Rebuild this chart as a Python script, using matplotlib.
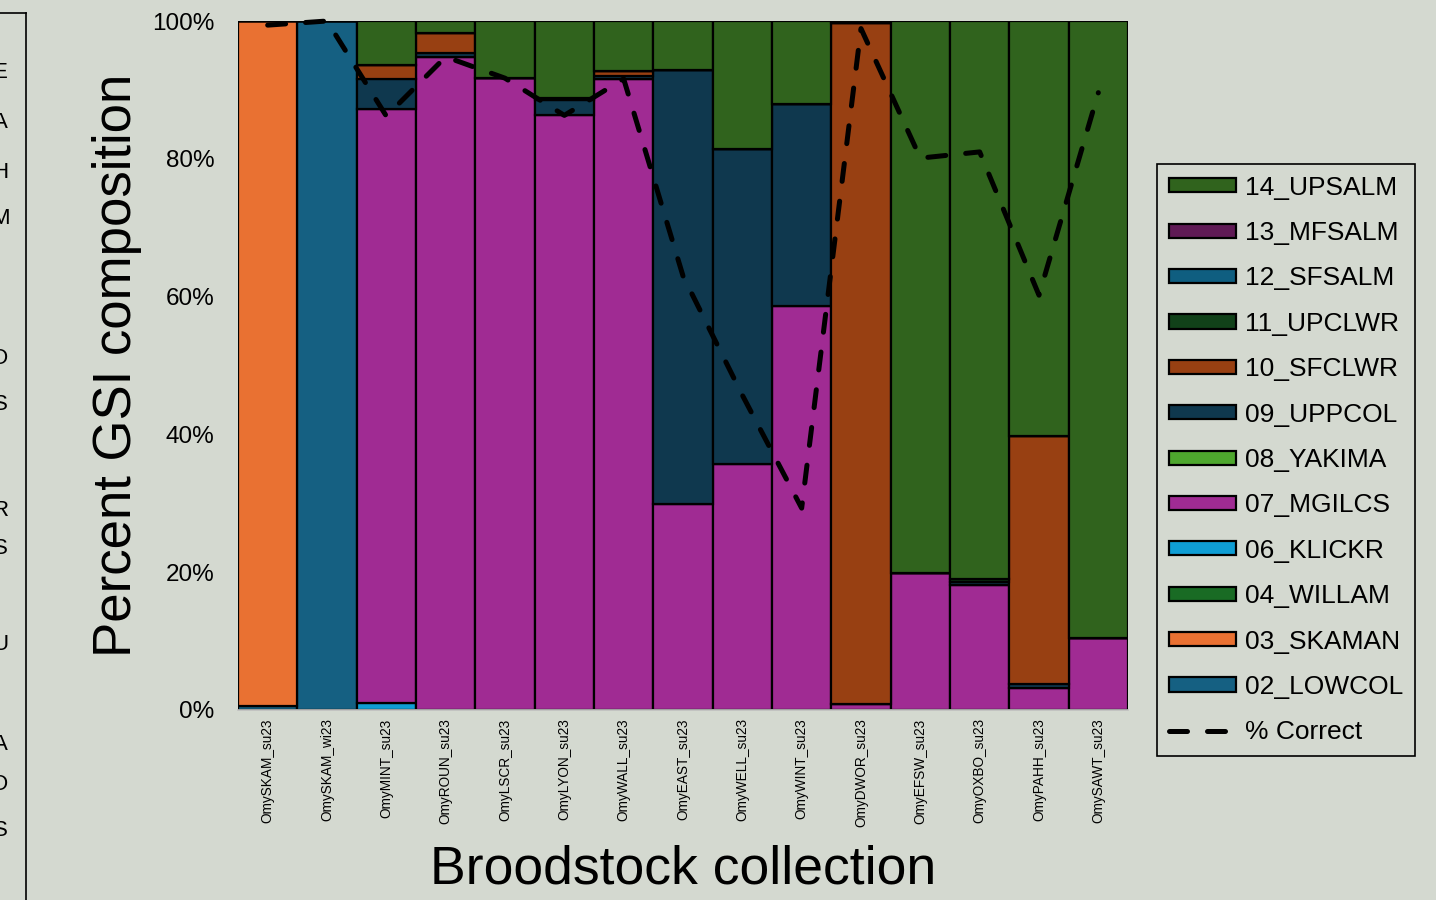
import numpy as np
import matplotlib
matplotlib.use("Agg")
import matplotlib.pyplot as plt
from matplotlib.patches import Patch
from matplotlib.lines import Line2D

plt.rcParams["font.family"] = ["Liberation Sans", "DejaVu Sans"]

bg = "#d4d9d0"

pops = ["OmySKAM_su23", "OmySKAM_wi23", "OmyMINT_su23", "OmyROUN_su23", "OmyLSCR_su23",
        "OmyLYON_su23", "OmyWALL_su23", "OmyEAST_su23", "OmyWELL_su23", "OmyWINT_su23",
        "OmyDWOR_su23", "OmyEFSW_su23", "OmyOXBO_su23", "OmyPAHH_su23", "OmySAWT_su23"]

# reporting-group composition (%), bottom to top of each stack
lowcol = [0.6, 100, 0, 0, 0, 0, 0, 0, 0, 0, 0, 0, 0, 0, 0]
skaman = [99.4, 0, 0, 0, 0, 0, 0, 0, 0, 0, 0, 0, 0, 0, 0]
willam = [0, 0, 0, 0, 0, 0, 0, 0, 0, 0, 0, 0, 0, 0, 0]
klickr = [0, 0, 1.0, 0, 0, 0, 0, 0, 0, 0, 0, 0, 0, 0, 0]
mgilcs = [0, 0, 86.2, 94.8, 91.7, 86.3, 91.6, 29.9, 35.7, 58.6, 0.8, 19.9, 18.2, 3.2, 10.4]
yakima = [0, 0, 0, 0, 0, 0, 0, 0, 0, 0, 0, 0, 0, 0, 0]
uppcol = [0, 0, 4.4, 0.5, 0, 2.2, 0.4, 63.0, 45.7, 29.3, 0, 0, 0.4, 0.6, 0]
sfclwr = [0, 0, 2.0, 2.9, 0, 0.3, 0.7, 0, 0, 0, 98.9, 0, 0, 36.0, 0]
upclwr = [0, 0, 0, 0, 0, 0, 0, 0, 0, 0, 0, 0, 0.4, 0, 0]
sfsalm = [0, 0, 0, 0, 0, 0, 0, 0, 0, 0, 0, 0, 0, 0, 0]
mfsalm = [0, 0, 0, 0, 0, 0, 0, 0, 0, 0, 0, 0, 0, 0, 0]
upsalm = [0, 0, 6.4, 1.8, 8.3, 11.2, 7.3, 7.1, 18.6, 12.1, 0.3, 80.1, 81.0, 60.2, 89.6]

pct_correct = [99.4, 100, 86.2, 94.8, 91.7, 86.3, 91.6, 63.0, 45.7, 29.3, 98.9, 80.1, 81.0, 60.2, 89.6]

groups = [
    ("02_LOWCOL", lowcol, "#156082"),
    ("03_SKAMAN", skaman, "#e97132"),
    ("04_WILLAM", willam, "#196b24"),
    ("06_KLICKR", klickr, "#0f9ed5"),
    ("07_MGILCS", mgilcs, "#a02b93"),
    ("08_YAKIMA", yakima, "#4ea72e"),
    ("09_UPPCOL", uppcol, "#0f384e"),
    ("10_SFCLWR", sfclwr, "#984012"),
    ("11_UPCLWR", upclwr, "#114119"),
    ("12_SFSALM", sfsalm, "#0f5e80"),
    ("13_MFSALM", mfsalm, "#5f1a55"),
    ("14_UPSALM", upsalm, "#30631d"),
]

fig = plt.figure(figsize=(14.36, 9), dpi=100, facecolor=bg)
ax = fig.add_axes([238 / 1436, 190 / 900, 890 / 1436, 689 / 900])
ax.set_facecolor(bg)

x = np.arange(len(pops))
bottom = np.zeros(len(pops))
handles = []
for name, vals, col in groups:
    vals = np.array(vals, dtype=float)
    ax.bar(x, vals, width=1.0, bottom=bottom, color=col, edgecolor="black",
           linewidth=1.6, zorder=2)
    bottom += vals
    handles.append(Patch(facecolor=col, edgecolor="black", linewidth=1.6, label=name))

ax.plot(x, pct_correct, color="black", lw=3.6, ls=(0, (3.6, 4.0)),
        dash_capstyle="round", zorder=5, clip_on=False)

ax.set_xlim(-0.5, len(pops) - 0.5)
ax.set_ylim(0, 100)
ax.set_yticks([0, 20, 40, 60, 80, 100])
ax.set_yticklabels(["0%", "20%", "40%", "60%", "80%", "100%"])
ax.set_xticks(x)
ax.set_xticklabels(pops, rotation=90, fontsize=9.8)
ax.tick_params(axis="y", length=0, pad=17, labelsize=17.5)
ax.tick_params(axis="x", length=0, pad=6)

for s in ["top", "right", "left"]:
    ax.spines[s].set_visible(False)
ax.spines["bottom"].set_color("#bfbfbf")
ax.spines["bottom"].set_linewidth(1.2)

ax.set_ylabel("Percent GSI composition", fontsize=38)
ax.yaxis.set_label_coords(-0.108, 0.5)
ax.set_xlabel("Broodstock collection", fontsize=38.5)
ax.xaxis.set_label_coords(0.5, -0.195)

handles = handles[::-1]
handles.append(Line2D([0], [0], color="black", lw=3.6, ls=(0, (3.6, 4.0)),
                      dash_capstyle="round", label="% Correct"))
leg = fig.legend(handles=handles, loc="center left", bbox_to_anchor=(1157 / 1436, 440 / 900),
                 fontsize=19, frameon=True, fancybox=False, edgecolor="black",
                 facecolor=bg, framealpha=1, handlelength=2.54, handleheight=0.45,
                 handletextpad=0.34, labelspacing=0.81, borderpad=0.45, borderaxespad=0)
leg.get_frame().set_linewidth(1.2)

# clipped panel from the neighbouring slide content
fig.add_artist(Line2D([26 / 1436, 26 / 1436], [0, 887 / 900], color="black", lw=1.2))
fig.add_artist(Line2D([0, 26 / 1436], [887 / 900, 887 / 900], color="black", lw=1.2))
side_letters = ["E", "A", "H", "M", "O", "S", "R", "S", "U", "A", "O", "S"]
side_y = [73, 122, 172, 218, 358, 405, 510, 548, 645, 745, 785, 830]
for ch, yy in zip(side_letters, side_y):
    fig.text(0, 1 - yy / 900, ch, fontsize=16, ha="center", va="center")

plt.savefig("out.png", dpi=100, facecolor=bg)
